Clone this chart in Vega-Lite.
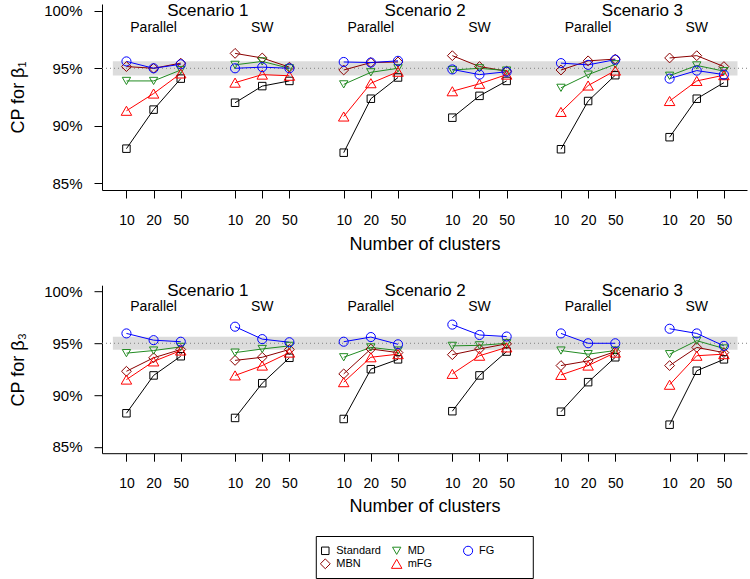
{
  "$schema": "https://vega.github.io/schema/vega-lite/v6.json",
  "padding": {"left": 9, "top": 1, "right": 0, "bottom": 0},
  "background": "white",
  "config": {
    "view": {"stroke": null},
    "font": "Liberation Sans",
    "axis": {"grid": false, "domainColor": "black", "domainWidth": 1, "tickColor": "black", "tickWidth": 1, "tickSize": 8, "labelColor": "black", "titleColor": "black", "labelFont": "Liberation Sans", "titleFont": "Liberation Sans", "titleFontWeight": "normal", "labelFlush": false, "labelOverlap": false},
    "legend": {"disable": true}
  },
  "datasets": {
    "cp": [
      {"panel": "b1", "scenario": 1, "design": "Parallel", "method": "Standard", "n10": 88.0, "n20": 91.4, "n50": 94.1},
      {"panel": "b1", "scenario": 1, "design": "Parallel", "method": "MBN", "n10": 95.15, "n20": 95.0, "n50": 95.45},
      {"panel": "b1", "scenario": 1, "design": "Parallel", "method": "MD", "n10": 93.9, "n20": 93.9, "n50": 94.85},
      {"panel": "b1", "scenario": 1, "design": "Parallel", "method": "mFG", "n10": 91.3, "n20": 92.8, "n50": 94.55},
      {"panel": "b1", "scenario": 1, "design": "Parallel", "method": "FG", "n10": 95.6, "n20": 95.0, "n50": 95.35},
      {"panel": "b1", "scenario": 1, "design": "SW", "method": "Standard", "n10": 92.0, "n20": 93.45, "n50": 93.9},
      {"panel": "b1", "scenario": 1, "design": "SW", "method": "MBN", "n10": 96.3, "n20": 95.9, "n50": 95.1},
      {"panel": "b1", "scenario": 1, "design": "SW", "method": "MD", "n10": 95.3, "n20": 95.6, "n50": 95.0},
      {"panel": "b1", "scenario": 1, "design": "SW", "method": "mFG", "n10": 93.75, "n20": 94.45, "n50": 94.35},
      {"panel": "b1", "scenario": 1, "design": "SW", "method": "FG", "n10": 95.0, "n20": 95.1, "n50": 95.0},
      {"panel": "b1", "scenario": 2, "design": "Parallel", "method": "Standard", "n10": 87.65, "n20": 92.35, "n50": 94.2},
      {"panel": "b1", "scenario": 2, "design": "Parallel", "method": "MBN", "n10": 94.85, "n20": 95.5, "n50": 95.55},
      {"panel": "b1", "scenario": 2, "design": "Parallel", "method": "MD", "n10": 93.6, "n20": 94.65, "n50": 95.0},
      {"panel": "b1", "scenario": 2, "design": "Parallel", "method": "mFG", "n10": 90.8, "n20": 93.7, "n50": 94.7},
      {"panel": "b1", "scenario": 2, "design": "Parallel", "method": "FG", "n10": 95.55, "n20": 95.5, "n50": 95.65},
      {"panel": "b1", "scenario": 2, "design": "SW", "method": "Standard", "n10": 90.7, "n20": 92.6, "n50": 93.9},
      {"panel": "b1", "scenario": 2, "design": "SW", "method": "MBN", "n10": 96.1, "n20": 95.15, "n50": 94.75},
      {"panel": "b1", "scenario": 2, "design": "SW", "method": "MD", "n10": 94.85, "n20": 95.0, "n50": 94.8},
      {"panel": "b1", "scenario": 2, "design": "SW", "method": "mFG", "n10": 93.0, "n20": 93.65, "n50": 94.45},
      {"panel": "b1", "scenario": 2, "design": "SW", "method": "FG", "n10": 94.9, "n20": 94.45, "n50": 94.7},
      {"panel": "b1", "scenario": 3, "design": "Parallel", "method": "Standard", "n10": 87.95, "n20": 92.15, "n50": 94.4},
      {"panel": "b1", "scenario": 3, "design": "Parallel", "method": "MBN", "n10": 94.85, "n20": 95.65, "n50": 95.8},
      {"panel": "b1", "scenario": 3, "design": "Parallel", "method": "MD", "n10": 93.3, "n20": 94.45, "n50": 95.35},
      {"panel": "b1", "scenario": 3, "design": "Parallel", "method": "mFG", "n10": 91.2, "n20": 93.5, "n50": 94.8},
      {"panel": "b1", "scenario": 3, "design": "Parallel", "method": "FG", "n10": 95.45, "n20": 95.3, "n50": 95.75},
      {"panel": "b1", "scenario": 3, "design": "SW", "method": "Standard", "n10": 89.0, "n20": 92.35, "n50": 93.75},
      {"panel": "b1", "scenario": 3, "design": "SW", "method": "MBN", "n10": 95.9, "n20": 96.1, "n50": 95.15},
      {"panel": "b1", "scenario": 3, "design": "SW", "method": "MD", "n10": 94.35, "n20": 95.25, "n50": 94.75},
      {"panel": "b1", "scenario": 3, "design": "SW", "method": "mFG", "n10": 92.15, "n20": 93.9, "n50": 94.4},
      {"panel": "b1", "scenario": 3, "design": "SW", "method": "FG", "n10": 94.1, "n20": 94.8, "n50": 94.45},
      {"panel": "b3", "scenario": 1, "design": "Parallel", "method": "Standard", "n10": 88.25, "n20": 91.9, "n50": 93.75},
      {"panel": "b3", "scenario": 1, "design": "Parallel", "method": "MBN", "n10": 92.3, "n20": 93.6, "n50": 94.4},
      {"panel": "b3", "scenario": 1, "design": "Parallel", "method": "MD", "n10": 94.05, "n20": 94.3, "n50": 94.65},
      {"panel": "b3", "scenario": 1, "design": "Parallel", "method": "mFG", "n10": 91.5, "n20": 93.25, "n50": 94.3},
      {"panel": "b3", "scenario": 1, "design": "Parallel", "method": "FG", "n10": 95.95, "n20": 95.3, "n50": 95.15},
      {"panel": "b3", "scenario": 1, "design": "SW", "method": "Standard", "n10": 87.8, "n20": 91.15, "n50": 93.6},
      {"panel": "b3", "scenario": 1, "design": "SW", "method": "MBN", "n10": 93.35, "n20": 93.65, "n50": 94.4},
      {"panel": "b3", "scenario": 1, "design": "SW", "method": "MD", "n10": 94.1, "n20": 94.45, "n50": 94.75},
      {"panel": "b3", "scenario": 1, "design": "SW", "method": "mFG", "n10": 91.9, "n20": 92.85, "n50": 94.1},
      {"panel": "b3", "scenario": 1, "design": "SW", "method": "FG", "n10": 96.6, "n20": 95.4, "n50": 95.1},
      {"panel": "b3", "scenario": 2, "design": "Parallel", "method": "Standard", "n10": 87.7, "n20": 92.5, "n50": 93.45},
      {"panel": "b3", "scenario": 2, "design": "Parallel", "method": "MBN", "n10": 92.05, "n20": 94.45, "n50": 94.1},
      {"panel": "b3", "scenario": 2, "design": "Parallel", "method": "MD", "n10": 93.65, "n20": 94.6, "n50": 94.3},
      {"panel": "b3", "scenario": 2, "design": "Parallel", "method": "mFG", "n10": 91.25, "n20": 93.65, "n50": 93.95},
      {"panel": "b3", "scenario": 2, "design": "Parallel", "method": "FG", "n10": 95.15, "n20": 95.6, "n50": 94.9},
      {"panel": "b3", "scenario": 2, "design": "SW", "method": "Standard", "n10": 88.45, "n20": 91.9, "n50": 94.2},
      {"panel": "b3", "scenario": 2, "design": "SW", "method": "MBN", "n10": 93.9, "n20": 94.45, "n50": 94.95},
      {"panel": "b3", "scenario": 2, "design": "SW", "method": "MD", "n10": 94.75, "n20": 94.8, "n50": 95.0},
      {"panel": "b3", "scenario": 2, "design": "SW", "method": "mFG", "n10": 92.05, "n20": 93.8, "n50": 94.6},
      {"panel": "b3", "scenario": 2, "design": "SW", "method": "FG", "n10": 96.8, "n20": 95.8, "n50": 95.65},
      {"panel": "b3", "scenario": 3, "design": "Parallel", "method": "Standard", "n10": 88.4, "n20": 91.25, "n50": 93.65},
      {"panel": "b3", "scenario": 3, "design": "Parallel", "method": "MBN", "n10": 92.85, "n20": 93.3, "n50": 94.2},
      {"panel": "b3", "scenario": 3, "design": "Parallel", "method": "MD", "n10": 94.3, "n20": 93.95, "n50": 94.3},
      {"panel": "b3", "scenario": 3, "design": "Parallel", "method": "mFG", "n10": 91.95, "n20": 92.85, "n50": 94.1},
      {"panel": "b3", "scenario": 3, "design": "Parallel", "method": "FG", "n10": 95.95, "n20": 95.0, "n50": 95.0},
      {"panel": "b3", "scenario": 3, "design": "SW", "method": "Standard", "n10": 87.15, "n20": 92.35, "n50": 93.45},
      {"panel": "b3", "scenario": 3, "design": "SW", "method": "MBN", "n10": 92.85, "n20": 94.6, "n50": 94.1},
      {"panel": "b3", "scenario": 3, "design": "SW", "method": "MD", "n10": 93.95, "n20": 95.25, "n50": 94.5},
      {"panel": "b3", "scenario": 3, "design": "SW", "method": "mFG", "n10": 91.0, "n20": 93.8, "n50": 93.95},
      {"panel": "b3", "scenario": 3, "design": "SW", "method": "FG", "n10": 96.4, "n20": 95.95, "n50": 94.75}
    ],
    "groups": [
      {"scenario": 1, "design": "Parallel"}, {"scenario": 1, "design": "SW"},
      {"scenario": 2, "design": "Parallel"}, {"scenario": 2, "design": "SW"},
      {"scenario": 3, "design": "Parallel"}, {"scenario": 3, "design": "SW"}
    ],
    "methods": [
      {"method": "Standard"}, {"method": "MBN"}, {"method": "MD"}, {"method": "mFG"}, {"method": "FG"}
    ]
  },
  "spacing": 95.2,
  "bounds": "flush",
  "vconcat": [
    {
      "width": 645, "height": 186,
      "layer": [
        {"data": {"values": [{}]}, "mark": {"type": "rect", "color": "#dcdcdc"},
         "encoding": {"x": {"datum": 0.5, "type": "quantitative", "scale": {"domain": [0.1, 23.85], "nice": false, "zero": false}}, "x2": {"datum": 23.5},
                      "y": {"datum": 94.38, "type": "quantitative", "scale": {"domain": [84.4, 100.6], "nice": false, "zero": false}}, "y2": {"datum": 95.62}}},
        {"data": {"values": [{}]}, "mark": {"type": "rule", "color": "#808080", "strokeDash": [1, 3], "strokeWidth": 1},
         "encoding": {"y": {"datum": 95, "type": "quantitative"}}},
        {"data": {"name": "groups"}, "transform": [{"filter": "datum.design == 'Parallel'"}, {"calculate": "'Scenario ' + datum.scenario", "as": "label"}, {"calculate": "(datum.scenario - 1) * 8 + 4", "as": "pos"}],
         "mark": {"type": "text", "fontSize": 17, "baseline": "middle", "align": "center", "color": "black"},
         "encoding": {"x": {"field": "pos", "type": "quantitative"}, "y": {"datum": 100, "type": "quantitative"}, "text": {"field": "label"}}},
        {"data": {"name": "groups"}, "transform": [{"calculate": "(datum.scenario - 1) * 8 + (datum.design == 'SW' ? 6 : 2)", "as": "pos"}],
         "mark": {"type": "text", "fontSize": 14, "baseline": "middle", "align": "center", "color": "black"},
         "encoding": {"x": {"field": "pos", "type": "quantitative"}, "y": {"datum": 98.5, "type": "quantitative"}, "text": {"field": "design"}}},
        {"data": {"name": "cp"}, "transform": [{"filter": "datum.panel == 'b1'"}, {"fold": ["n10", "n20", "n50"], "as": ["clusters", "cp"]}, {"calculate": "(datum.scenario - 1) * 8 + (datum.design == 'SW' ? 4 : 0) + indexof(['n10', 'n20', 'n50'], datum.clusters) + 1", "as": "pos"}],
         "mark": {"type": "line", "strokeWidth": 1},
         "encoding": {"x": {"field": "pos", "type": "quantitative"}, "y": {"field": "cp", "type": "quantitative"},
                      "color": {"field": "method", "type": "nominal", "legend": null, "scale": {"domain": ["Standard", "MD", "FG", "MBN", "mFG"], "range": ["#000000", "#228B22", "#0000FF", "#8B0000", "#FF0000"]}},
                      "detail": [{"field": "scenario"}, {"field": "design"}]}},
        {"data": {"name": "cp"}, "transform": [{"filter": "datum.panel == 'b1'"}, {"fold": ["n10", "n20", "n50"], "as": ["clusters", "cp"]}, {"calculate": "(datum.scenario - 1) * 8 + (datum.design == 'SW' ? 4 : 0) + indexof(['n10', 'n20', 'n50'], datum.clusters) + 1", "as": "pos"}],
         "mark": {"type": "point", "filled": false, "strokeWidth": 1, "opacity": 1},
         "encoding": {
           "x": {"field": "pos", "type": "quantitative", "axis": {"title": "Number of clusters", "values": [1, 2, 3, 5, 6, 7, 9, 10, 11, 13, 14, 15, 17, 18, 19, 21, 22, 23], "tickCount": 40, "labelExpr": "['10', '20', '50'][(datum.value - 1) % 4]", "labelFontSize": 14, "labelPadding": 15, "titleFontSize": 18, "titleY": 54, "titleBaseline": "middle"}},
           "y": {"field": "cp", "type": "quantitative", "axis": {"title": "CP for β₁", "values": [85, 90, 95, 100], "labelExpr": "datum.value + '%'", "labelFontSize": 15, "labelPadding": 12, "titleFontSize": 18, "titleX": -84, "titleY": 93, "titleAngle": 270, "titleAlign": "center", "titleBaseline": "middle"}},
           "color": {"field": "method", "type": "nominal", "legend": null, "scale": {"domain": ["Standard", "MD", "FG", "MBN", "mFG"], "range": ["#000000", "#228B22", "#0000FF", "#8B0000", "#FF0000"]}},
           "shape": {"field": "method", "type": "nominal", "legend": null, "scale": {"domain": ["Standard", "MD", "FG", "MBN", "mFG"], "range": ["square", "triangle-down", "circle", "diamond", "triangle-up"]}},
           "size": {"field": "method", "type": "nominal", "legend": null, "scale": {"domain": ["Standard", "MD", "FG", "MBN", "mFG"], "range": [56, 110, 90, 110, 110]}}
         }}
      ]
    },
    {
      "spacing": 83.3,
      "bounds": "flush",
      "vconcat": [
        {
          "width": 645, "height": 168,
          "layer": [
            {"data": {"values": [{}]}, "mark": {"type": "rect", "color": "#dcdcdc"},
             "encoding": {"x": {"datum": 0.5, "type": "quantitative", "scale": {"domain": [0.1, 23.85], "nice": false, "zero": false}}, "x2": {"datum": 23.5},
                          "y": {"datum": 94.38, "type": "quantitative", "scale": {"domain": [84.4, 100.6], "nice": false, "zero": false}}, "y2": {"datum": 95.62}}},
            {"data": {"values": [{}]}, "mark": {"type": "rule", "color": "#808080", "strokeDash": [1, 3], "strokeWidth": 1},
             "encoding": {"y": {"datum": 95, "type": "quantitative"}}},
            {"data": {"name": "groups"}, "transform": [{"filter": "datum.design == 'Parallel'"}, {"calculate": "'Scenario ' + datum.scenario", "as": "label"}, {"calculate": "(datum.scenario - 1) * 8 + 4", "as": "pos"}],
             "mark": {"type": "text", "fontSize": 17, "baseline": "middle", "align": "center", "color": "black"},
             "encoding": {"x": {"field": "pos", "type": "quantitative"}, "y": {"datum": 100, "type": "quantitative"}, "text": {"field": "label"}}},
            {"data": {"name": "groups"}, "transform": [{"calculate": "(datum.scenario - 1) * 8 + (datum.design == 'SW' ? 6 : 2)", "as": "pos"}],
             "mark": {"type": "text", "fontSize": 14, "baseline": "middle", "align": "center", "color": "black"},
             "encoding": {"x": {"field": "pos", "type": "quantitative"}, "y": {"datum": 98.5, "type": "quantitative"}, "text": {"field": "design"}}},
            {"data": {"name": "cp"}, "transform": [{"filter": "datum.panel == 'b3'"}, {"fold": ["n10", "n20", "n50"], "as": ["clusters", "cp"]}, {"calculate": "(datum.scenario - 1) * 8 + (datum.design == 'SW' ? 4 : 0) + indexof(['n10', 'n20', 'n50'], datum.clusters) + 1", "as": "pos"}],
             "mark": {"type": "line", "strokeWidth": 1},
             "encoding": {"x": {"field": "pos", "type": "quantitative"}, "y": {"field": "cp", "type": "quantitative"},
                          "color": {"field": "method", "type": "nominal", "legend": null, "scale": {"domain": ["Standard", "MD", "FG", "MBN", "mFG"], "range": ["#000000", "#228B22", "#0000FF", "#8B0000", "#FF0000"]}},
                          "detail": [{"field": "scenario"}, {"field": "design"}]}},
            {"data": {"name": "cp"}, "transform": [{"filter": "datum.panel == 'b3'"}, {"fold": ["n10", "n20", "n50"], "as": ["clusters", "cp"]}, {"calculate": "(datum.scenario - 1) * 8 + (datum.design == 'SW' ? 4 : 0) + indexof(['n10', 'n20', 'n50'], datum.clusters) + 1", "as": "pos"}],
             "mark": {"type": "point", "filled": false, "strokeWidth": 1, "opacity": 1},
             "encoding": {
               "x": {"field": "pos", "type": "quantitative", "axis": {"title": "Number of clusters", "values": [1, 2, 3, 5, 6, 7, 9, 10, 11, 13, 14, 15, 17, 18, 19, 21, 22, 23], "tickCount": 40, "labelExpr": "['10', '20', '50'][(datum.value - 1) % 4]", "labelFontSize": 14, "labelPadding": 15, "titleFontSize": 18, "titleY": 53.5, "titleBaseline": "middle"}},
               "y": {"field": "cp", "type": "quantitative", "axis": {"title": "CP for β₃", "values": [85, 90, 95, 100], "labelExpr": "datum.value + '%'", "labelFontSize": 15, "labelPadding": 12, "titleFontSize": 18, "titleX": -84, "titleY": 84, "titleAngle": 270, "titleAlign": "center", "titleBaseline": "middle"}},
               "color": {"field": "method", "type": "nominal", "legend": null, "scale": {"domain": ["Standard", "MD", "FG", "MBN", "mFG"], "range": ["#000000", "#228B22", "#0000FF", "#8B0000", "#FF0000"]}},
               "shape": {"field": "method", "type": "nominal", "legend": null, "scale": {"domain": ["Standard", "MD", "FG", "MBN", "mFG"], "range": ["square", "triangle-down", "circle", "diamond", "triangle-up"]}},
               "size": {"field": "method", "type": "nominal", "legend": null, "scale": {"domain": ["Standard", "MD", "FG", "MBN", "mFG"], "range": [56, 110, 90, 110, 110]}}
             }}
          ]
        },
        {
          "width": 645, "height": 42,
          "layer": [
            {"data": {"values": [{}]}, "mark": {"type": "rect", "fill": null, "fillOpacity": 0, "stroke": "black", "strokeWidth": 1},
             "encoding": {"x": {"datum": -0.126, "type": "quantitative", "axis": null, "scale": {"domain": [-3.127, 5.906], "nice": false, "zero": false}}, "x2": {"datum": 2.913},
                          "y": {"datum": -1.1, "type": "quantitative", "axis": null, "scale": {"domain": [-1.1, 2.13], "nice": false, "zero": false, "reverse": true}}, "y2": {"datum": 2.13}}},
            {"data": {"name": "methods"}, "transform": [{"calculate": "indexof(['Standard', 'MBN', 'MD', 'mFG', 'FG'], datum.method)", "as": "idx"}, {"calculate": "floor(datum.idx / 2)", "as": "col"}, {"calculate": "datum.idx % 2", "as": "row"}],
             "mark": {"type": "point", "filled": false, "strokeWidth": 1, "opacity": 1},
             "encoding": {"x": {"field": "col", "type": "quantitative", "axis": null}, "y": {"field": "row", "type": "quantitative", "axis": null},
                          "color": {"field": "method", "type": "nominal", "legend": null, "scale": {"domain": ["Standard", "MD", "FG", "MBN", "mFG"], "range": ["#000000", "#228B22", "#0000FF", "#8B0000", "#FF0000"]}},
                          "shape": {"field": "method", "type": "nominal", "legend": null, "scale": {"domain": ["Standard", "MD", "FG", "MBN", "mFG"], "range": ["square", "triangle-down", "circle", "diamond", "triangle-up"]}},
                          "size": {"field": "method", "type": "nominal", "legend": null, "scale": {"domain": ["Standard", "MD", "FG", "MBN", "mFG"], "range": [56, 110, 90, 110, 110]}}}},
            {"data": {"name": "methods"}, "transform": [{"calculate": "indexof(['Standard', 'MBN', 'MD', 'mFG', 'FG'], datum.method)", "as": "idx"}, {"calculate": "floor(datum.idx / 2)", "as": "col"}, {"calculate": "datum.idx % 2", "as": "row"}],
             "mark": {"type": "text", "fontSize": 11, "align": "left", "baseline": "middle", "dx": 11, "color": "black"},
             "encoding": {"x": {"field": "col", "type": "quantitative", "axis": null}, "y": {"field": "row", "type": "quantitative", "axis": null}, "text": {"field": "method"}}}
          ]
        }
      ]
    }
  ]
}
